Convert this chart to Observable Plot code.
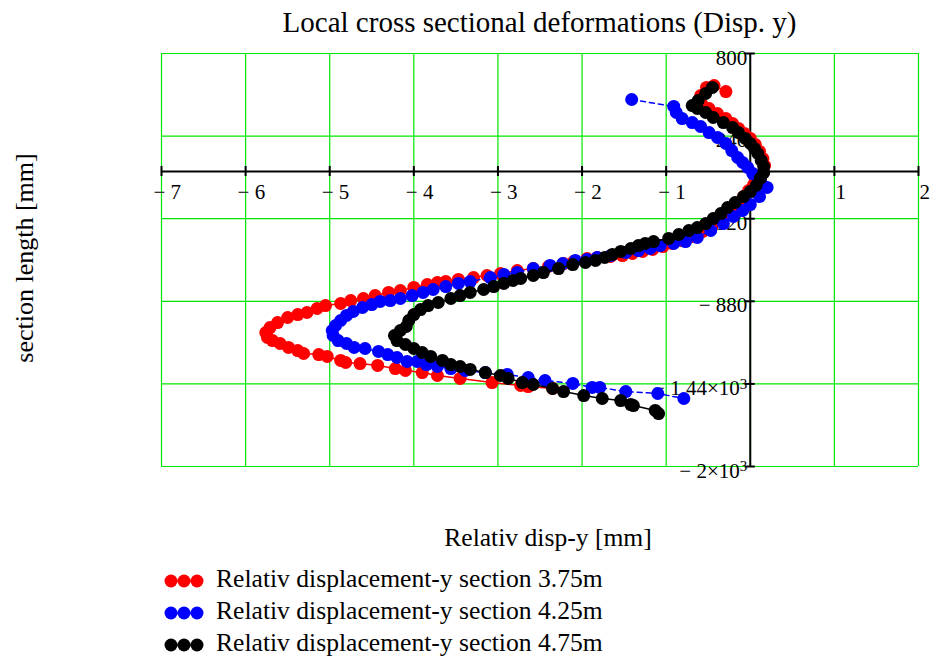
<!DOCTYPE html>
<html>
<head>
<meta charset="utf-8">
<script src="https://cdn.jsdelivr.net/npm/d3@7"></script>
<script src="https://cdn.jsdelivr.net/npm/@observablehq/plot@0.6"></script>
<style>
  html, body { margin: 0; padding: 0; background: #fff; overflow: hidden; }
  #wrap { position: relative; width: 930px; height: 659px; font-family: "Liberation Serif", "Times New Roman", serif; color: #000; }
  #title { position: absolute; left: 161px; width: 757px; top: 8px; text-align: center; font-size: 29px; line-height: 29px; white-space: nowrap; }
  #chart { position: absolute; left: 0; top: 45px; }
  #legend { position: absolute; left: 163px; top: 563px; font-size: 25.6px; }
  .row { display: flex; align-items: flex-start; height: 32px; line-height: 32px; white-space: nowrap; }
  .row svg { display: block; flex: none; }
</style>
</head>
<body>
<div id="wrap">
  <div id="title">Local cross sectional deformations (Disp. y)</div>
  <div id="chart"></div>
  <div id="legend"></div>
</div>
<script>
// Axis ticks and their printed labels
const xTicks = [-7, -6, -5, -4, -3, -2, -1, 0, 1, 2];
const xTickLabels = ["− 7", "− 6", "− 5", "− 4", "− 3", "− 2", "− 1", "0", "1", "2"];
const yTicks = [800, 240, -320, -880, -1440, -2000];
const yTickLabels = ["800", "240", "− 320", "− 880", "− 1.44×10³", "− 2×10³"];

// Relative y displacement [mm] vs. position along the section [mm]
const sec375 = [
  [-0.29,542],[-0.43,583],[-0.52,570],[-0.59,515],[-0.58,461],[-0.49,427],[-0.39,393],[-0.29,359],
  [-0.21,325],[-0.14,292],[-0.07,258],[0.00,224],[0.06,183],[0.11,136],[0.15,88],[0.17,41],
  [0.15,-7],[0.10,-47],[0.04,-88],[-0.02,-129],[-0.08,-170],[-0.14,-210],[-0.21,-251],[-0.28,-292],
  [-0.37,-332],[-0.46,-373],[-0.57,-407],[-0.69,-441],[-0.81,-468],[-0.93,-488],[-1.04,-509],[-1.16,-529],
  [-1.28,-542],[-1.40,-556],[-1.52,-570],[-1.66,-576],[-1.82,-583],[-1.94,-590],[-2.10,-610],[-2.22,-624],
  [-2.40,-644],[-2.58,-658],[-2.77,-671],[-2.97,-692],[-3.13,-705],[-3.29,-719],[-3.47,-732],[-3.62,-746],
  [-3.72,-753],[-3.84,-766],[-4.00,-786],[-4.16,-807],[-4.30,-820],[-4.46,-841],[-4.60,-861],[-4.75,-875],
  [-4.87,-895],[-5.05,-909],[-5.15,-929],[-5.27,-956],[-5.38,-970],[-5.50,-990],[-5.62,-1024],[-5.71,-1058],
  [-5.76,-1092],[-5.74,-1125],[-5.68,-1146],[-5.59,-1166],[-5.49,-1193],[-5.38,-1214],[-5.31,-1234],[-5.13,-1241],
  [-5.03,-1254],[-4.87,-1281],[-4.81,-1295],[-4.64,-1302],[-4.43,-1315],[-4.22,-1336],[-4.10,-1349],[-3.90,-1363],
  [-3.72,-1383],[-3.45,-1403],[-3.07,-1431],[-2.73,-1451],[-2.64,-1458],[-2.35,-1471]
];
const sec425 = [
  [-1.41,488],[-0.91,441],[-0.88,400],[-0.81,359],[-0.69,332],[-0.59,305],[-0.49,264],[-0.39,231],
  [-0.29,190],[-0.22,142],[-0.15,95],[-0.09,61],[-0.03,27],[0.03,-14],[0.12,-61],[0.20,-108],
  [0.11,-170],[0.00,-224],[-0.09,-264],[-0.20,-305],[-0.32,-353],[-0.47,-400],[-0.63,-447],[-0.77,-475],
  [-0.91,-488],[-1.07,-502],[-1.19,-522],[-1.33,-536],[-1.48,-549],[-1.66,-570],[-1.82,-583],[-1.94,-597],
  [-2.08,-603],[-2.23,-624],[-2.38,-637],[-2.58,-658],[-2.77,-685],[-2.93,-698],[-3.09,-719],[-3.33,-746],
  [-3.47,-759],[-3.62,-780],[-3.77,-800],[-3.89,-820],[-4.02,-841],[-4.16,-861],[-4.28,-875],[-4.40,-881],
  [-4.50,-902],[-4.61,-922],[-4.72,-949],[-4.80,-976],[-4.87,-1010],[-4.93,-1044],[-4.97,-1078],[-4.96,-1112],
  [-4.90,-1146],[-4.80,-1166],[-4.71,-1193],[-4.58,-1200],[-4.42,-1220],[-4.31,-1241],[-4.20,-1261],[-4.08,-1288],
  [-3.96,-1288],[-3.85,-1309],[-3.72,-1322],[-3.56,-1336],[-3.39,-1349],[-3.15,-1363],[-2.89,-1376],[-2.64,-1397],
  [-2.44,-1417],[-2.11,-1437],[-1.88,-1464],[-1.79,-1464],[-1.48,-1492],[-1.10,-1505],[-0.79,-1539]
];
const sec475 = [
  [-0.45,570],[-0.53,529],[-0.62,481],[-0.69,447],[-0.63,427],[-0.53,400],[-0.44,366],[-0.32,332],
  [-0.21,298],[-0.14,264],[-0.06,224],[0.00,190],[0.05,156],[0.09,122],[0.13,75],[0.16,34],
  [0.16,-7],[0.12,-47],[0.07,-95],[0.00,-136],[-0.08,-170],[-0.18,-210],[-0.27,-244],[-0.35,-285],
  [-0.44,-319],[-0.53,-353],[-0.63,-380],[-0.73,-400],[-0.85,-427],[-0.97,-454],[-1.15,-475],[-1.25,-488],
  [-1.33,-502],[-1.42,-522],[-1.54,-542],[-1.64,-563],[-1.73,-583],[-1.84,-603],[-1.96,-617],[-2.11,-631],
  [-2.28,-658],[-2.46,-685],[-2.58,-705],[-2.73,-725],[-2.82,-739],[-2.93,-759],[-3.05,-780],[-3.17,-800],
  [-3.33,-820],[-3.45,-841],[-3.56,-861],[-3.71,-888],[-3.83,-909],[-3.92,-936],[-4.00,-970],[-4.06,-1010],
  [-4.09,-1051],[-4.16,-1078],[-4.23,-1112],[-4.20,-1146],[-4.10,-1173],[-4.00,-1200],[-3.90,-1227],[-3.80,-1254],
  [-3.66,-1281],[-3.56,-1309],[-3.45,-1322],[-3.33,-1342],[-3.15,-1363],[-2.97,-1383],[-2.88,-1403],[-2.71,-1431],
  [-2.58,-1444],[-2.35,-1471],[-2.22,-1492],[-1.98,-1519],[-1.76,-1539],[-1.54,-1553],[-1.42,-1580],[-1.39,-1587],
  [-1.13,-1620],[-1.09,-1641]
];

const seriesData = [sec375, sec425, sec475];
const seriesNames = [
  "Relativ displacement-y section 3.75m",
  "Relativ displacement-y section 4.25m",
  "Relativ displacement-y section 4.75m"
];
const seriesColors = ["#ff0000", "#0000ff", "#000000"];
const seriesDash = [null, "5,4", null];

const gridColor = "#00e600";
const serif = "'Liberation Serif', 'Times New Roman', serif";

const seriesMarks = seriesData.flatMap((data, i) => [
  Plot.line(data, {x: d => d[0], y: d => d[1], stroke: seriesColors[i], strokeWidth: 1.5, strokeDasharray: seriesDash[i]}),
  Plot.dot(data, {x: d => d[0], y: d => d[1], r: 6.5, fill: seriesColors[i], stroke: "none"})
]);

const negTicks = xTicks.filter(t => t < 0);
const posTicks = xTicks.filter(t => t >= 0);

const chart = Plot.plot({
  width: 930,
  height: 510,
  marginTop: 8,
  marginBottom: 89,
  marginLeft: 161,
  marginRight: 12,
  style: {fontFamily: serif, fontSize: "21px", background: "white", color: "black"},
  x: {domain: [-7, 2], axis: null},
  y: {domain: [-2000, 800], axis: null},
  marks: [
    // grid
    Plot.ruleX(xTicks, {stroke: gridColor, strokeWidth: 1.2}),
    Plot.ruleY(yTicks, {stroke: gridColor, strokeWidth: 1.2}),
    // axes crossing at the origin
    Plot.ruleY([0], {stroke: "#000", strokeWidth: 2}),
    Plot.ruleX([0], {stroke: "#000", strokeWidth: 2}),
    Plot.ruleX(xTicks, {x: d => d, y1: 0, y2: 0, insetTop: -5, insetBottom: -5, stroke: "#000", strokeWidth: 2}),
    Plot.ruleY(yTicks, {y: d => d, x1: 0, x2: 0, insetLeft: -5, insetRight: -5, stroke: "#000", strokeWidth: 2}),
    // tick labels
    Plot.text(negTicks, {x: d => d, y: 0, text: d => xTickLabels[xTicks.indexOf(d)], textAnchor: "start", lineAnchor: "bottom", dx: -8, dy: 27, fontSize: 21}),
    Plot.text(posTicks, {x: d => d, y: 0, text: d => xTickLabels[xTicks.indexOf(d)], textAnchor: "start", lineAnchor: "bottom", dx: 1, dy: 27, fontSize: 21}),
    Plot.text(yTicks, {x: 0, y: d => d, text: (d, i) => yTickLabels[i], textAnchor: "end", lineAnchor: "bottom", dx: -3, dy: 11, fontSize: 21}),
    // axis titles
    Plot.text(["Relativ disp-y [mm]"], {frameAnchor: "bottom", textAnchor: "middle", lineAnchor: "bottom", dx: 8, dy: 79, fontSize: 25.6}),
    Plot.text(["section length [mm]"], {frameAnchor: "left", textAnchor: "middle", lineAnchor: "middle", rotate: -90, dx: -137, dy: -2, fontSize: 26}),
    // data
    ...seriesMarks
  ]
});

// typeset the exponent of the ×10³ tick labels as a raised, smaller "3"
chart.querySelectorAll("text").forEach(t => {
  const s = t.textContent;
  if (s.endsWith("³") && t.children.length === 0) {
    t.textContent = s.slice(0, -1);
    const sup = document.createElementNS("http://www.w3.org/2000/svg", "tspan");
    sup.setAttribute("dy", "-0.42em");
    sup.setAttribute("font-size", "15");
    sup.textContent = "3";
    t.append(sup);
  }
});
document.getElementById("chart").append(chart);

// legend below the plot
const legend = document.getElementById("legend");
seriesNames.forEach((name, i) => {
  const row = document.createElement("div");
  row.className = "row";
  const ns = "http://www.w3.org/2000/svg";
  const sw = document.createElementNS(ns, "svg");
  sw.setAttribute("width", 53);
  sw.setAttribute("height", 32);
  const ln = document.createElementNS(ns, "line");
  ln.setAttribute("x1", 8); ln.setAttribute("x2", 34);
  ln.setAttribute("y1", 18); ln.setAttribute("y2", 18);
  ln.setAttribute("stroke", seriesColors[i]);
  ln.setAttribute("stroke-width", 1.5);
  sw.append(ln);
  [8, 21, 34].forEach(cx => {
    const c = document.createElementNS(ns, "circle");
    c.setAttribute("cx", cx); c.setAttribute("cy", 18); c.setAttribute("r", 6.5);
    c.setAttribute("fill", seriesColors[i]);
    sw.append(c);
  });
  const label = document.createElement("span");
  label.textContent = name;
  row.append(sw, label);
  legend.append(row);
});
</script>
</body>
</html>
